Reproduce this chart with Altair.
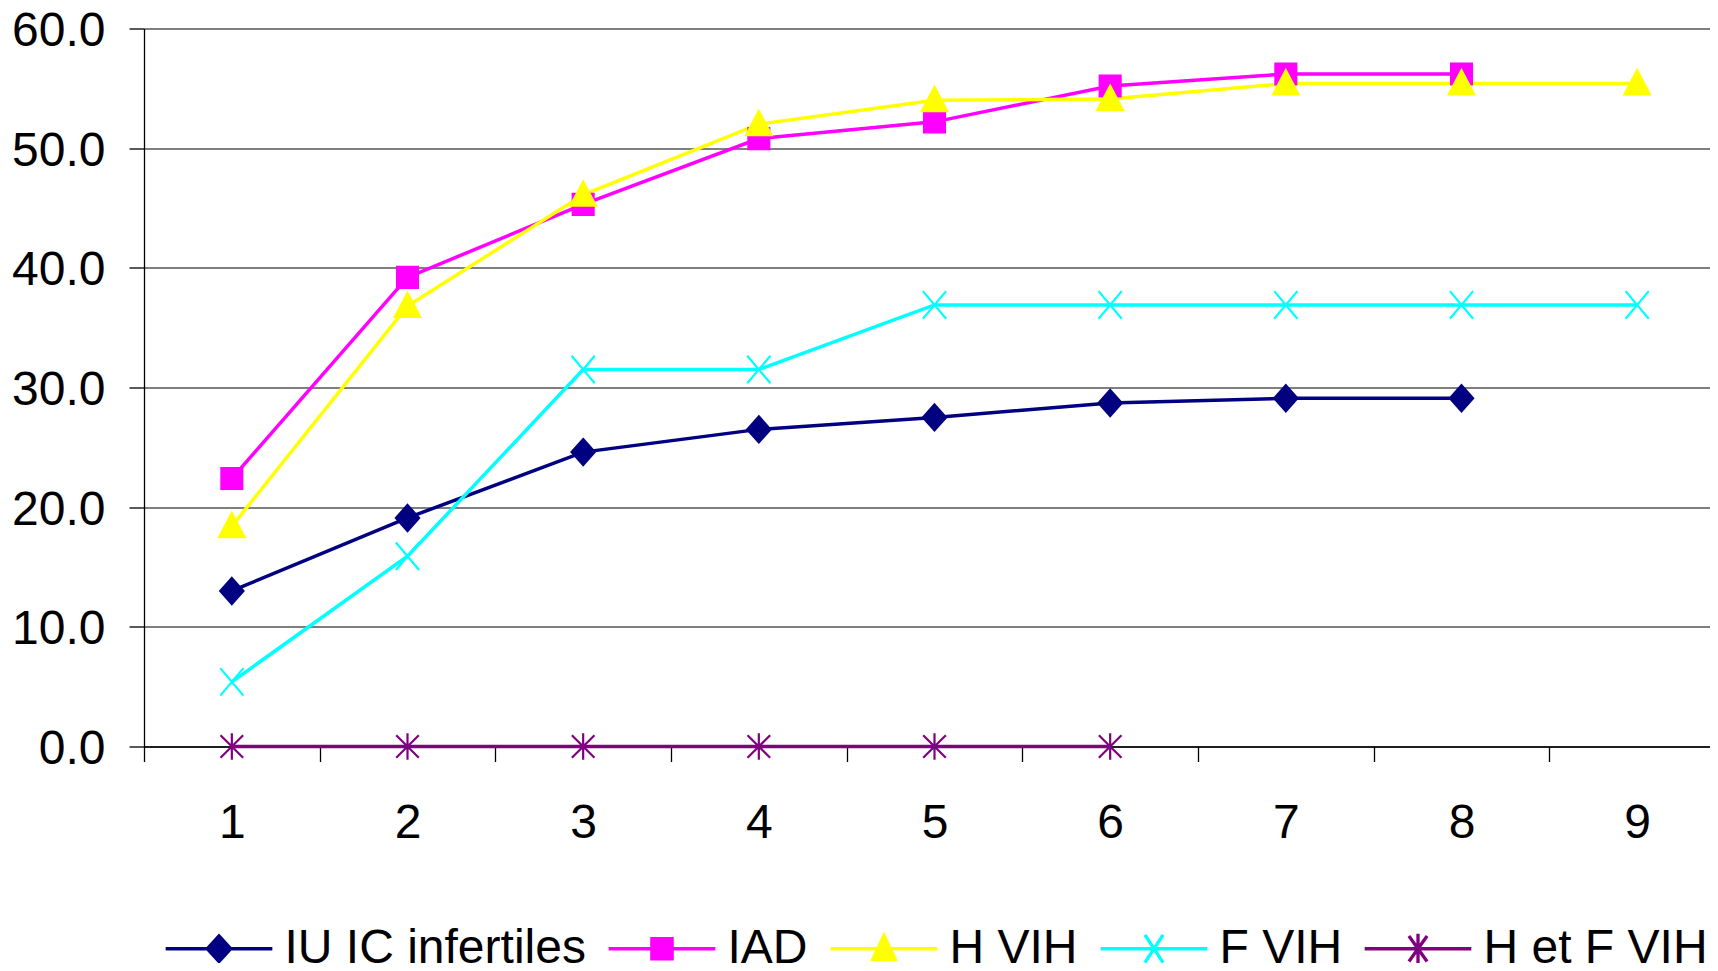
import altair as alt
import pandas as pd

# ---------------- data ----------------
steps = [1, 2, 3, 4, 5, 6, 7, 8, 9]
series_names = ["IU IC infertiles", "IAD", "H VIH", "F VIH", "H et F VIH"]
iu_ic = [13.0, 19.1, 24.6, 26.5, 27.5, 28.7, 29.1, 29.1]
iad = [22.4, 39.2, 45.3, 50.8, 52.2, 55.2, 56.2, 56.2]
h_vih = [18.4, 36.8, 46.1, 52.0, 54.0, 54.1, 55.4, 55.4, 55.4]
f_vih = [5.4, 15.9, 31.5, 31.5, 36.9, 36.9, 36.9, 36.9, 36.9]
h_f_vih = [0.0, 0.0, 0.0, 0.0, 0.0, 0.0]
y_ticks = [0, 10, 20, 30, 40, 50, 60]

colors = ["#000080", "#FF00FF", "#FFFF00", "#00FFFF", "#800080"]

rows = []
for name, vals in zip(series_names, [iu_ic, iad, h_vih, f_vih, h_f_vih]):
    for s, v in zip(steps, vals):
        rows.append({"step": s, "value": v, "series": name})
df = pd.DataFrame(rows)

# ---------------- styling ----------------
FONT = "Liberation Sans"
marker_paths = [
    "M0,-0.9L0.8,0L0,0.9L-0.8,0Z",                         # diamond
    "M-0.72,-0.72H0.72V0.72H-0.72Z",                      # square
    "M0,-0.92L0.88,0.75L-0.88,0.75Z",                     # triangle
    "M-0.8,-0.95L0.8,0.95M-0.8,0.95L0.8,-0.95",           # X
    "M-0.78,-0.78L0.78,0.78M-0.78,0.78L0.78,-0.78M0,-0.92V0.92",  # asterisk
]
# legend symbols: a line with the marker on it
legend_paths = [
    "M-1,0H1M0,-0.24L0.22,0L0,0.24L-0.22,0Z",
    "M-1,0H1M-0.19,-0.19H0.19V0.19H-0.19Z",
    "M-1,0H1M0,-0.25L0.21,0.2L-0.21,0.2Z",
    "M-1,0H1M-0.17,-0.26L0.17,0.26M-0.17,0.26L0.17,-0.26",
    "M-1,0H1M-0.17,-0.24L0.17,0.24M-0.17,0.24L0.17,-0.24M0,-0.28V0.28",
]

W, H = 1566, 718

legend = alt.Legend(
    title=None, orient="none", legendX=19.5, legendY=864.5, direction="horizontal",
    columns=5, labelFont=FONT, labelFontSize=48, labelColor="black", labelLimit=0,
    symbolSize=11385, symbolStrokeWidth=3.3, symbolOpacity=1, labelOffset=10,
    columnPadding=15, padding=0,
)
color_enc = alt.Color("series:N", scale=alt.Scale(domain=series_names, range=colors), legend=legend)
stroke_enc = alt.Stroke("series:N", scale=alt.Scale(domain=series_names, range=colors), legend=legend)

x_enc = alt.X(
    "step:O",
    scale=alt.Scale(type="band", paddingInner=0, paddingOuter=0, range=[0, 1581]),
    axis=alt.Axis(
        title=None, labelAngle=0, tickBand="extent", tickSize=15, tickColor="black",
        tickWidth=1.3, domainColor="black", domainWidth=1.3, grid=False,
        labelFont=FONT, labelFontSize=48, labelColor="black", labelPadding=38,
    ),
)
y_enc = alt.Y(
    "value:Q",
    scale=alt.Scale(domain=[0, 60], nice=False),
    axis=alt.Axis(
        title=None, values=y_ticks, format=".1f", tickSize=15, tickColor="black",
        tickWidth=1.3, domainColor="black", domainWidth=1.3, gridColor="#555555",
        gridWidth=1.3, labelFont=FONT, labelFontSize=48, labelColor="black",
        labelPadding=24, labelOffset=3,
    ),
)

base = alt.Chart(df)
lines = base.mark_line(strokeWidth=3.5).encode(
    x=x_enc, y=y_enc, color=color_enc, order="step:O",
)

point_layers = []
for name, path in zip(series_names, marker_paths):
    point_layers.append(
        base.transform_filter(alt.datum.series == name)
        .mark_point(filled=True, opacity=1, size=841, strokeWidth=2.2, shape=path)
        .encode(x=x_enc, y=y_enc, color=color_enc, stroke=stroke_enc)
    )

# legend carrier: no data drawn, it only supplies the legend symbols
legend_layer = base.transform_filter("false").mark_point(filled=True, opacity=1).encode(
    x=x_enc, y=y_enc, color=color_enc, stroke=stroke_enc,
    shape=alt.Shape("series:N", scale=alt.Scale(domain=series_names, range=legend_paths), legend=legend),
)

chart = alt.layer(lines, *point_layers, legend_layer).properties(
    width=W, height=H,
    autosize=alt.AutoSizeParams(type="none"),
    padding={"left": 136, "top": 20.5, "right": 0, "bottom": 216.5},
    background="white",
).configure_view(strokeWidth=0)

chart.save("out.html", embed_options={"renderer": "svg", "actions": False})
